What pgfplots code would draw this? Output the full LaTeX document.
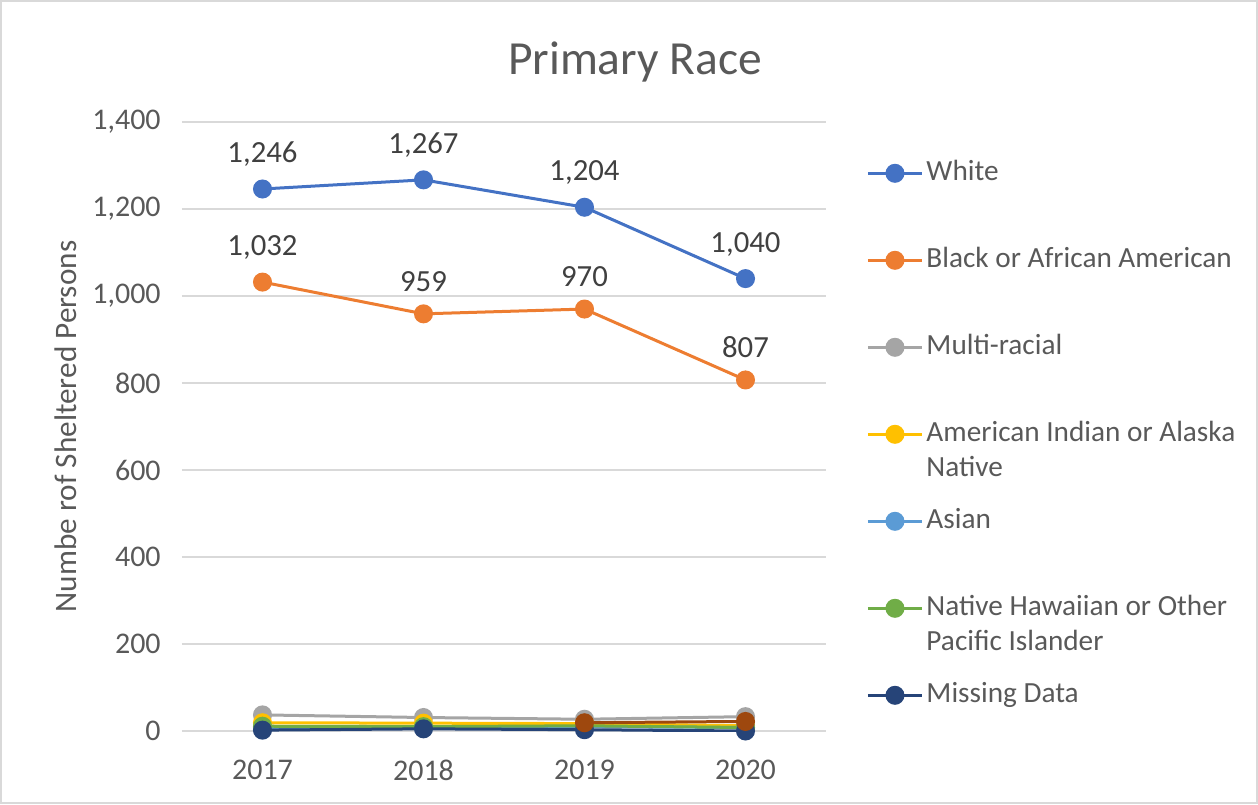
\documentclass[border=0pt]{standalone}
\usepackage{pgfplots}
\pgfplotsset{compat=1.18}
\usepackage{fontspec}
\setmainfont{Carlito}
\definecolor{cWhite}{HTML}{4472C4}
\definecolor{cBlack}{HTML}{ED7D31}
\definecolor{cMulti}{HTML}{A5A5A5}
\definecolor{cAmInd}{HTML}{FFC000}
\definecolor{cAsian}{HTML}{5B9BD5}
\definecolor{cHaw}{HTML}{70AD47}
\definecolor{cMiss}{HTML}{264478}
\definecolor{cOther}{HTML}{9E480E}
\definecolor{txt}{HTML}{595959}
\definecolor{gridc}{HTML}{D9D9D9}
\newcommand{\two}[2]{\parbox[t]{140pt}{#1\\#2}}
\begin{document}
\begin{tikzpicture}
\useasboundingbox (0,0) rectangle (503.2pt,321.6pt);
\draw[gridc, line width=0.8pt] (0.4pt,0.4pt) rectangle (502.8pt,321.2pt);
\node[text=txt, font=\fontsize{19}{23}\selectfont] at (254pt,297pt) {Primary Race};
\begin{axis}[
    at={(72.8pt,29.2pt)}, anchor=south west,
    scale only axis, width=257.6pt, height=243.6pt,
    xmin=-0.5, xmax=3.5, ymin=0, ymax=1400,
    xtick=data, xticklabels={2017,2018,2019,2020},
    ytick={0,200,...,1400},
    axis line style={draw=none}, tick style={draw=none},
    ymajorgrids, grid style={gridc, line width=0.8pt},
    /pgf/number format/assume math mode=true,
    /pgf/number format/1000 sep={,},
    tick label style={text=txt, font=\fontsize{12}{14}\selectfont},
    yticklabel style={xshift=-5pt},
    xticklabel style={yshift=-8pt},
    ylabel={Numbe rof Sheltered Persons},
    ylabel style={text=txt, font=\fontsize{12.5}{14}\selectfont, yshift=-0.5pt},
    every axis plot/.append style={line width=1.2pt, mark=*, mark size=3.2pt},
    legend image code/.code={\draw[mark repeat=2,mark phase=2] plot coordinates {(0cm,0cm)(0.38cm,0cm)(0.76cm,0cm)};},
    legend cell align=left,
    legend style={at={(1.062,0.988)}, anchor=north west, draw=none, fill=none,
        inner sep=0pt, row sep=0pt, text=txt, font=\fontsize{11.7}{14}\selectfont,
        nodes={inner sep=1.2pt, text height=19.2pt, text depth=13.2pt}},
    nodes near coords style={text=black!75, font=\fontsize{12.3}{14}\selectfont},
]
\addplot[color=cWhite, mark options={fill=cWhite},
    nodes near coords, every node near coord/.append style={yshift=5pt}]
    coordinates {(0,1246) (1,1267) (2,1204) (3,1040)};
\addplot[color=cBlack, mark options={fill=cBlack},
    nodes near coords, every node near coord/.append style={yshift=5pt}]
    coordinates {(0,1032) (1,959) (2,970) (3,807)};
\addplot[color=cMulti, mark options={fill=cMulti}]
    coordinates {(0,37) (1,31) (2,27) (3,33)};
\addplot[color=cAmInd, mark options={fill=cAmInd}]
    coordinates {(0,19) (1,18) (2,17) (3,12)};
\addplot[color=cAsian, mark options={fill=cAsian}]
    coordinates {(0,8) (1,8) (2,10) (3,8)};
\addplot[color=cHaw, mark options={fill=cHaw}]
    coordinates {(0,11) (1,10) (2,12) (3,8)};
\addplot[color=cMiss, mark options={fill=cMiss}]
    coordinates {(0,2) (1,5) (2,3) (3,0)};
\addplot[color=cOther, mark options={fill=cOther}, forget plot]
    coordinates {(2,19) (3,22)};
\legend{White,Black or African American,Multi-racial,
    \two{American Indian or Alaska}{Native},Asian,
    \two{Native Hawaiian or Other}{Pacific Islander},Missing Data}
\end{axis}
\end{tikzpicture}
\end{document}
